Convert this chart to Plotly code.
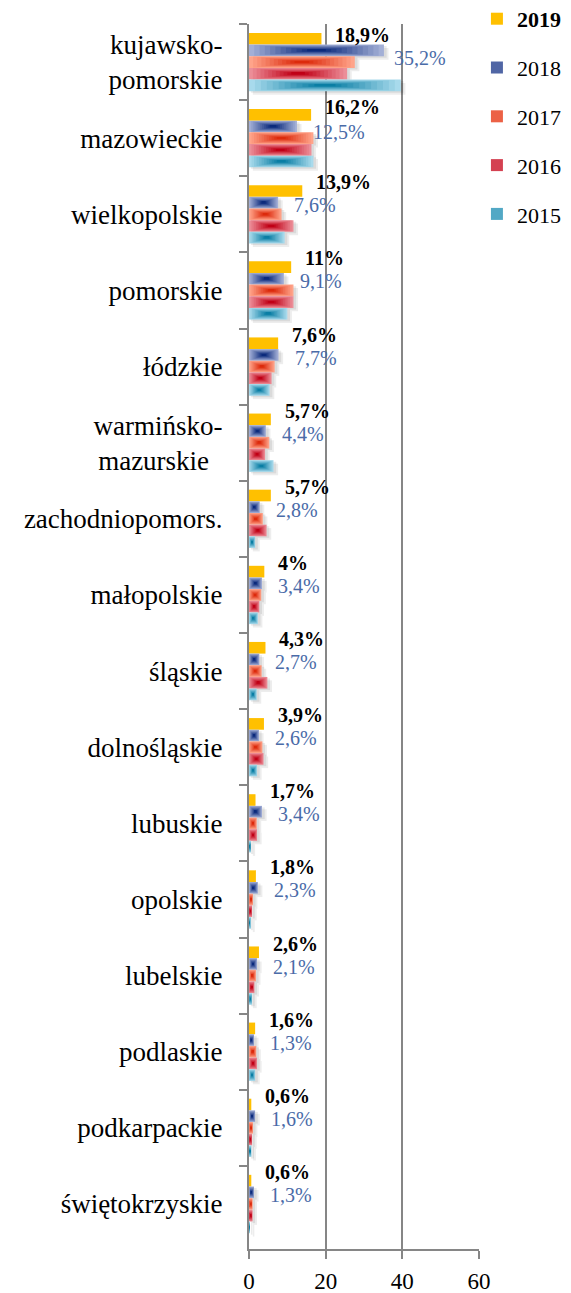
import plotly.graph_objects as go

# ---------------- data ----------------
regions = ["kujawsko-<br>pomorskie", "mazowieckie", "wielkopolskie", "pomorskie",
           "łódzkie", "warmińsko-<br>mazurskie\u00a0\u00a0", "zachodniopomors.", "małopolskie",
           "śląskie", "dolnośląskie", "lubuskie", "opolskie", "lubelskie",
           "podlaskie", "podkarpackie", "świętokrzyskie"]
years = ["2019", "2018", "2017", "2016", "2015"]
v2019 = [18.9, 16.2, 13.9, 11.0, 7.6, 5.7, 5.7, 4.0, 4.3, 3.9, 1.7, 1.8, 2.6, 1.6, 0.6, 0.6]
v2018 = [35.2, 12.5, 7.6, 9.1, 7.7, 4.4, 2.8, 3.4, 2.7, 2.6, 3.4, 2.3, 2.1, 1.3, 1.6, 1.3]
v2017 = [27.6, 16.8, 8.5, 11.6, 6.7, 5.3, 3.6, 3.2, 3.3, 3.5, 2.0, 1.0, 1.8, 1.9, 1.0, 0.9]
v2016 = [25.6, 16.3, 11.6, 11.6, 5.9, 4.2, 4.6, 2.7, 4.8, 3.8, 2.1, 0.8, 1.4, 2.1, 0.8, 0.9]
v2015 = [39.6, 16.8, 9.3, 10.0, 5.4, 6.4, 1.6, 2.3, 2.0, 2.1, 0.4, 0.3, 0.8, 1.6, 0.6, 0.2]
x_ticks = [0, 20, 40, 60]

# ---------------- style ----------------
FONT = "Liberation Serif"
GREY = "#868686"
# (edge colour, centre colour) of the path gradient; None = solid
styles = {
    "2019": ("#FFC000", None),
    "2018": ("#A3AFD6", "#0B2A7C"),
    "2017": ("#FFA48A", "#DC2A0C"),
    "2016": ("#EC8E98", "#C00016"),
    "2015": ("#A8DAEC", "#0A7EA4"),
}
values = {"2019": v2019, "2018": v2018, "2017": v2017, "2016": v2016, "2015": v2015}

W = 0.1532
START = -0.383
N = 12


def hex2rgb(h):
    h = h.lstrip("#")
    return tuple(int(h[i:i + 2], 16) for i in (0, 2, 4))


def mix(a, b, t):
    ra, rb = hex2rgb(a), hex2rgb(b)
    return "rgb(%d,%d,%d)" % tuple(round(ra[i] + (rb[i] - ra[i]) * t) for i in range(3))


def fmt(v):
    s = ("%.1f" % v).replace(".", ",")
    if s.endswith(",0"):
        s = s[:-2]
    return s + "%"


fig = go.Figure()

# soft shadows (two translucent layers)
for i, yr in enumerate(years):
    if i == 0:
        continue
    vals = values[yr]
    off = START + i * W
    for dx, dy, a in [(0.5, 0.02, 0.08), (1.0, 0.045, 0.07)]:
        fig.add_trace(go.Bar(
            y=regions, x=[v + 0.2 for v in vals], base=dx, orientation="h",
            offset=off + dy, width=W, marker=dict(color="rgba(0,0,0,%s)" % a, line_width=0),
            showlegend=False, hoverinfo="skip"))

# bars
for i, yr in enumerate(years):
    vals = values[yr]
    edge, center = styles[yr]
    off = START + i * W
    if center is None:
        fig.add_trace(go.Bar(
            name="<b>%s</b>" % yr, y=regions, x=vals, orientation="h",
            offset=off, width=W, marker=dict(color=edge, line_width=0),
            legendgroup=yr))
        continue
    for k in range(N):
        f = 0.94 * k / N
        t = k / (N - 1)
        fig.add_trace(go.Bar(
            name=yr, y=regions, x=[v * (1 - f) for v in vals],
            base=[v * f / 2 for v in vals], orientation="h",
            offset=off + W * f / 2, width=W * (1 - f),
            marker=dict(color=mix(edge, center, t), line_width=0),
            legendgroup=yr, showlegend=(k == 6)))

# data labels: (yshift 2019, yshift 2018, xshift 2018)
override = {0: (27, 4.5, 8), 1: (31, 6, 14)}
for j, r in enumerate(regions):
    s19, s18, x18 = override.get(j, (32, 9, 14))
    fig.add_annotation(x=v2019[j], y=r, text="<b>%s</b>" % fmt(v2019[j]), showarrow=False,
                       xanchor="left", yanchor="middle", xshift=12, yshift=s19,
                       font=dict(family=FONT, size=20, color="black"))
    fig.add_annotation(x=v2018[j], y=r, text=fmt(v2018[j]), showarrow=False,
                       xanchor="left", yanchor="middle", xshift=x18, yshift=s18,
                       font=dict(family=FONT, size=20, color="#4A6BA8"))

# the page body has an 8px margin: the figure is sized to fit the 571x1293 window
fig.update_layout(
    width=563, height=1285,
    margin=dict(l=241, r=92, t=16, b=44, autoexpand=False),
    paper_bgcolor="white", plot_bgcolor="white",
    barmode="overlay",
    font=dict(family=FONT, size=22, color="black"),
    legend=dict(xref="paper", yref="paper", x=0.991, y=1.0213,
                xanchor="left", yanchor="top",
                font=dict(family=FONT, size=22, color="black"),
                tracegroupgap=17.2, traceorder="grouped",
                bgcolor="rgba(0,0,0,0)", itemwidth=30),
    xaxis=dict(range=[0, 60], tickvals=x_ticks, ticktext=[str(t) for t in x_ticks],
               showgrid=True, gridcolor=GREY, gridwidth=2, zeroline=False,
               showline=True, linecolor=GREY, linewidth=2, automargin=False,
               ticks="outside", ticklen=8, tickwidth=2, tickcolor=GREY,
               tickfont=dict(family=FONT, size=23, color="black"),
               ticklabelstandoff=2),
    yaxis=dict(type="category", categoryorder="array", categoryarray=regions,
               autorange="reversed", showgrid=False, zeroline=False,
               showline=True, linecolor=GREY, linewidth=2, automargin=False,
               ticks="outside", tickson="boundaries", ticklen=8, tickwidth=2, tickcolor=GREY,
               tickfont=dict(family=FONT, size=27, color="black"),
               ticklabelstandoff=19),
)

fig.write_html("out.html")
